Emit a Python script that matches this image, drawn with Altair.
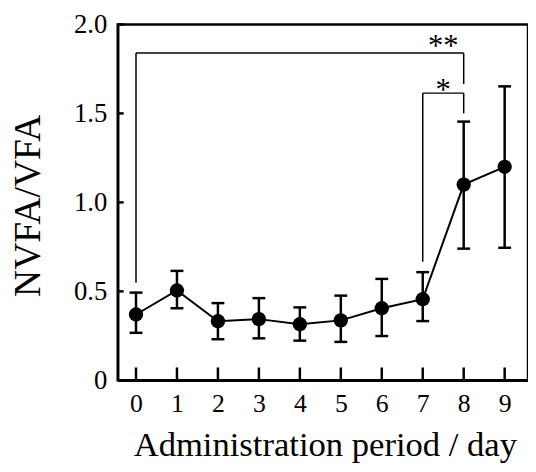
import altair as alt
import pandas as pd

# ---- data ----
days = [0, 1, 2, 3, 4, 5, 6, 7, 8, 9]
means = [0.37, 0.505, 0.332, 0.344, 0.315, 0.337, 0.405, 0.456, 1.10, 1.20]
upper = [0.493, 0.615, 0.434, 0.462, 0.410, 0.476, 0.570, 0.608, 1.454, 1.652]
lower = [0.267, 0.405, 0.231, 0.236, 0.223, 0.216, 0.249, 0.333, 0.740, 0.745]

x_ticks = [0, 1, 2, 3, 4, 5, 6, 7, 8, 9]
y_ticks = [0, 0.5, 1.0, 1.5, 2.0]

# significance brackets (segments)
seg_x1 = [0, 0, 8, 7, 7, 8]
seg_y1 = [0.548, 1.839, 1.839, 0.667, 1.614, 1.614]
seg_x2 = [0, 8, 8, 7, 8, 8]
seg_y2 = [1.839, 1.839, 1.665, 1.614, 1.614, 1.50]

star_labels = ["**", "*"]
star_x = [7.5, 7.5]
star_y = [1.906, 1.656]

FONT = "Liberation Serif"
W, H = 415, 360

df = pd.DataFrame({"day": days, "mean": means, "upper": upper, "lower": lower})
seg = pd.DataFrame({"x1": seg_x1, "y1": seg_y1, "x2": seg_x2, "y2": seg_y2})
stars = pd.DataFrame({"label": star_labels, "x": star_x, "y": star_y})
xt = pd.DataFrame({"t": x_ticks})
yt = pd.DataFrame({"t": y_ticks})

xscale = alt.Scale(domain=[-0.446, 9.57], nice=False, zero=False)
yscale = alt.Scale(domain=[0, 2.0], nice=False, zero=False)

xaxis = alt.Axis(
    values=x_ticks, tickSize=0, grid=False, labelFont=FONT, labelFontSize=26,
    labelColor="black", labelPadding=11, domainColor="black", domainWidth=2.5,
    title="Administration period / day", titleFont=FONT, titleFontSize=35,
    titleFontWeight="normal", titleColor="black", titleBaseline="alphabetic",
    titleX=W / 2 + 2, titleY=76, titleAnchor="middle",
)
yaxis = alt.Axis(
    values=y_ticks, tickSize=0, grid=False, labelFont=FONT, labelFontSize=27,
    labelColor="black", labelPadding=11, domainColor="black", domainWidth=2.5,
    labelExpr="datum.value == 0 ? '0' : format(datum.value, '.1f')",
    title="NVFA/VFA", titleFont=FONT, titleFontSize=38, titleFontWeight="normal",
    titleColor="black", titleAngle=-90, titleAlign="center", titleBaseline="middle",
    titleX=-90, titleY=H / 2 + 3,
)

base = alt.Chart(df)

line = base.mark_line(color="black", strokeWidth=2).encode(
    x=alt.X("day:Q", scale=xscale, axis=xaxis),
    y=alt.Y("mean:Q", scale=yscale, axis=yaxis),
)
err = base.mark_rule(color="black", strokeWidth=2.5).encode(
    x="day:Q", y="lower:Q", y2="upper:Q"
)
cap_hi = base.mark_tick(color="black", orient="horizontal", size=13, thickness=2.5, opacity=1).encode(
    x="day:Q", y="upper:Q"
)
cap_lo = base.mark_tick(color="black", orient="horizontal", size=13, thickness=2.5, opacity=1).encode(
    x="day:Q", y="lower:Q"
)
pts = base.mark_circle(color="black", size=210, opacity=1).encode(
    x="day:Q", y="mean:Q"
)

brackets = alt.Chart(seg).mark_rule(color="black", strokeWidth=1.5).encode(
    x="x1:Q", y="y1:Q", x2="x2:Q", y2="y2:Q"
)
star_text = alt.Chart(stars).mark_text(
    font=FONT, fontSize=31, color="black", baseline="middle", align="center", dy=6
).encode(x="x:Q", y="y:Q", text="label:N")

xticks = alt.Chart(xt).mark_rule(color="black", strokeWidth=2.5).encode(
    x="t:Q", y=alt.value(H), y2=alt.value(H - 13)
)
yticks = alt.Chart(yt).mark_rule(color="black", strokeWidth=2.5).encode(
    y="t:Q", x=alt.value(0), x2=alt.value(6)
)

chart = alt.layer(
    brackets, xticks, yticks, line, err, cap_hi, cap_lo, pts, star_text
).properties(
    width=W, height=H,
    autosize=alt.AutoSizeParams(type="none"),
    padding={"left": 111, "top": 14, "right": 0, "bottom": 82},
    background="white",
).configure_view(
    stroke="black", strokeWidth=2.5
)

chart.save("out.html", embed_options={"renderer": "svg", "actions": False})
